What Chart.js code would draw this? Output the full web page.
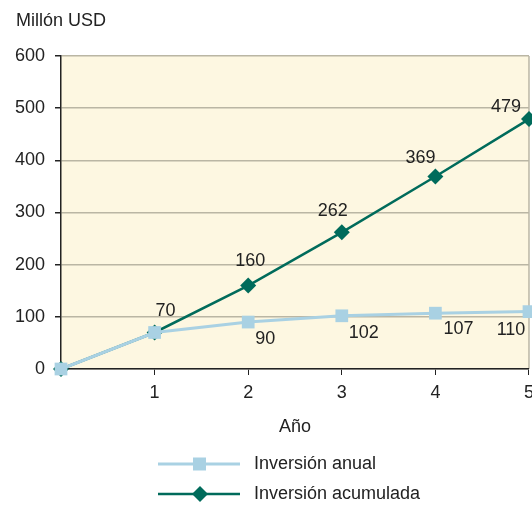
<!DOCTYPE html>
<html>
<head>
<meta charset="utf-8">
<script src="https://cdn.jsdelivr.net/npm/chart.js@4"></script>
<style>
  html, body { margin: 0; padding: 0; background: #fff; overflow: hidden; }
</style>
</head>
<body>
<canvas id="chart" width="541" height="505"></canvas>
<script>
const years = [0, 1, 2, 3, 4, 5];
const annual = [0, 70, 90, 102, 107, 110];
const cumulative = [0, 70, 160, 262, 369, 479];
const seriesNames = ['Inversión anual', 'Inversión acumulada'];
const yTicks = [0, 100, 200, 300, 400, 500, 600];

const FONT = 'Liberation Sans, Arial, Helvetica, sans-serif';
const FS = 18;
const BLUE = '#a9d1e3';
const TEAL = '#006b5b';

const toPoints = (vals) => vals.map((v, i) => ({ x: years[i], y: v }));

// per dataset offsets for the value labels
const labelOffsets = [
  [null, [11, -21], [17, 17], [22, 17], [23, 16], [-18, 18]],
  [null, null, [2, -25], [-9, -21], [-15, -18], [-23, -12]]
];

const decor = {
  id: 'decor',
  beforeDraw(chart) {
    const { ctx, chartArea: a } = chart;
    ctx.save();
    ctx.fillStyle = '#fdf7e1';
    ctx.fillRect(a.left, a.top, a.right - a.left, a.bottom - a.top);
    ctx.strokeStyle = '#bab6a4';
    ctx.lineWidth = 1.5;
    ctx.beginPath();
    ctx.moveTo(a.right, a.top);
    ctx.lineTo(a.right, a.bottom);
    ctx.stroke();
    ctx.restore();
  },
  afterDraw(chart) {
    const { ctx } = chart;
    ctx.save();
    ctx.font = FS + 'px ' + FONT;
    ctx.fillStyle = '#222';
    ctx.textBaseline = 'middle';
    ctx.textAlign = 'left';
    ctx.fillText('Millón USD', 16, 21);

    // value labels
    ctx.textAlign = 'center';
    chart.data.datasets.forEach((ds, di) => {
      const meta = chart.getDatasetMeta(di);
      meta.data.forEach((pt, i) => {
        const off = labelOffsets[di][i];
        if (!off) return;
        ctx.fillText(String(ds.data[i].y), pt.x + off[0], pt.y + off[1]);
      });
    });

    // legend
    const rows = [464, 494];
    chart.data.datasets.forEach((ds, di) => {
      const y = rows[di];
      ctx.strokeStyle = ds.borderColor;
      ctx.lineWidth = ds.borderWidth;
      ctx.beginPath();
      ctx.moveTo(158, y);
      ctx.lineTo(240, y);
      ctx.stroke();
      ctx.fillStyle = ds.pointBackgroundColor;
      if (ds.pointStyle === 'rect') {
        ctx.fillRect(193, y - 6.5, 13, 13);
      } else {
        ctx.beginPath();
        ctx.moveTo(200, y - 8);
        ctx.lineTo(208, y);
        ctx.lineTo(200, y + 8);
        ctx.lineTo(192, y);
        ctx.closePath();
        ctx.fill();
      }
      ctx.fillStyle = '#222';
      ctx.textAlign = 'left';
      ctx.fillText(ds.label, 254, y);
    });
    ctx.restore();
  }
};

new Chart(document.getElementById('chart'), {
  type: 'line',
  data: {
    datasets: [
      {
        label: seriesNames[0],
        data: toPoints(annual),
        borderColor: BLUE,
        backgroundColor: BLUE,
        pointBackgroundColor: BLUE,
        pointBorderWidth: 0,
        borderWidth: 3,
        pointStyle: 'rect',
        pointRadius: 9,
        tension: 0
      },
      {
        label: seriesNames[1],
        data: toPoints(cumulative),
        borderColor: TEAL,
        backgroundColor: TEAL,
        pointBackgroundColor: TEAL,
        pointBorderWidth: 0,
        borderWidth: 2.5,
        pointStyle: 'rectRot',
        pointRadius: 8,
        tension: 0
      }
    ]
  },
  options: {
    responsive: false,
    animation: false,
    clip: false,
    layout: { padding: { top: 56, right: 4, bottom: 0, left: 0 } },
    plugins: { legend: { display: false }, tooltip: { enabled: false } },
    scales: {
      x: {
        type: 'linear',
        min: 0,
        max: 5,
        afterFit: (scale) => { scale.height = 136; },
        ticks: {
          stepSize: 1,
          padding: 7,
          color: '#222',
          font: { family: FONT, size: FS },
          callback: (v) => (v === 0 ? '' : String(v))
        },
        grid: { drawOnChartArea: false, tickLength: 6, tickColor: '#222', color: '#222' },
        border: { color: '#222', width: 1.5 },
        title: {
          display: true,
          text: 'Año',
          color: '#222',
          font: { family: FONT, size: FS },
          padding: { top: 0, bottom: 67 }
        }
      },
      y: {
        min: 0,
        max: 600,
        afterBuildTicks: (scale) => { scale.ticks = yTicks.map(v => ({ value: v })); },
        afterFit: (scale) => { scale.width = 61; },
        ticks: {
          padding: 10,
          color: '#222',
          font: { family: FONT, size: FS }
        },
        grid: { tickLength: 6, tickColor: '#222', color: '#bab6a4', lineWidth: 1.5 },
        border: { color: '#222', width: 1.5 }
      }
    }
  },
  plugins: [decor]
});
</script>
</body>
</html>
